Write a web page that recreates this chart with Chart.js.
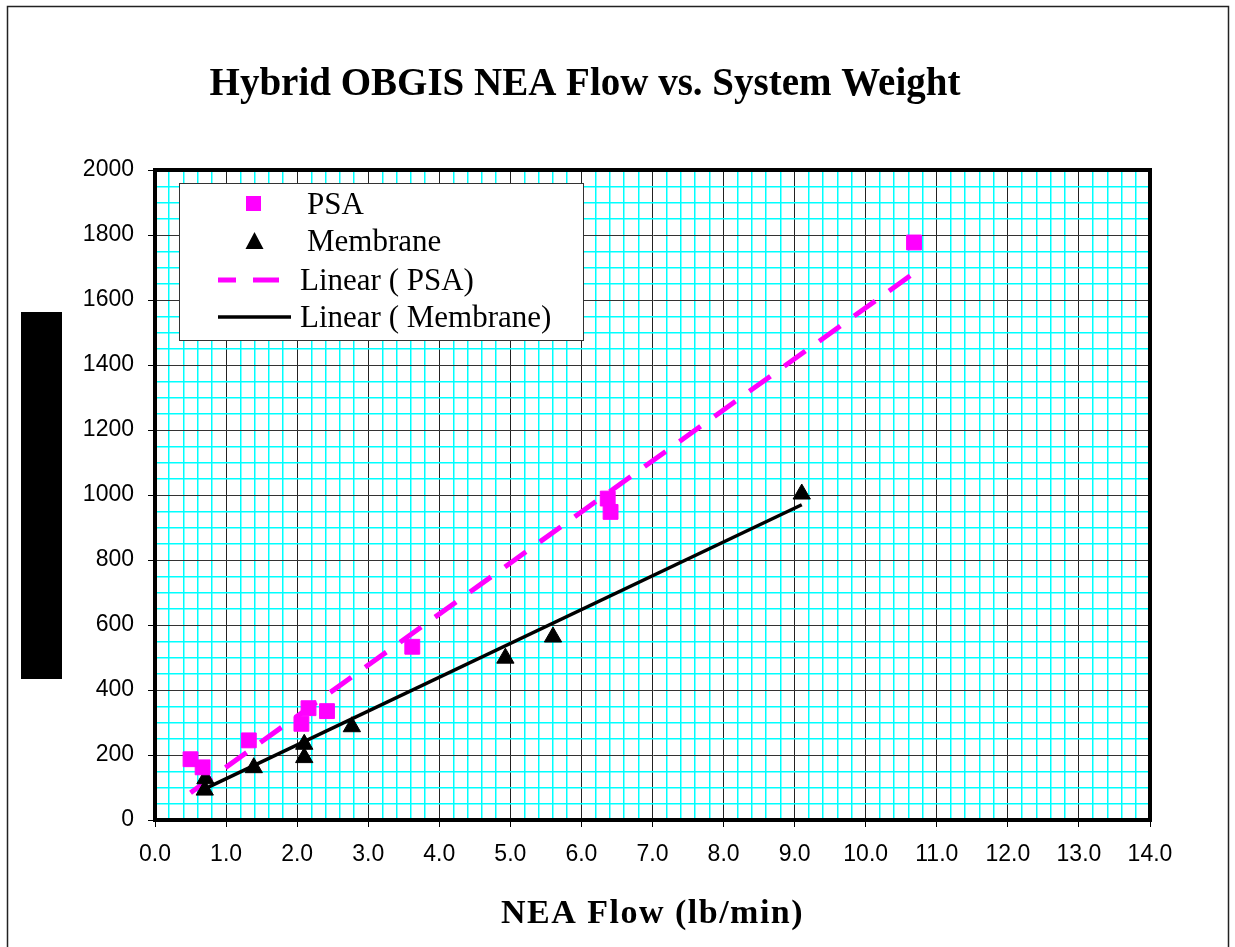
<!DOCTYPE html>
<html>
<head>
<meta charset="utf-8">
<title>Hybrid OBGIS NEA Flow vs. System Weight</title>
<script src="https://cdn.jsdelivr.net/npm/chart.js@4.4.1/dist/chart.umd.min.js"></script>
<style>
  body { margin: 0; background: #fff; }
  #wrap { width: 1235px; height: 947px; }
</style>
</head>
<body>
<div id="wrap"><canvas id="chart" width="1235" height="947"></canvas></div>
<script>
// --- data ---
const psaFlow   = [0.50, 0.67, 1.32, 2.06, 2.16, 2.42, 3.62, 6.37, 6.41, 10.68];
const psaWeight = [187, 162, 245, 296, 344, 335, 533, 989, 948, 1777];
const memFlow   = [0.70, 0.71, 1.39, 2.10, 2.10, 2.77, 4.93, 5.60, 9.10];
const memWeight = [92, 127, 161, 192, 233, 287, 498, 563, 1003];

// trendline end points as drawn
const psaTrendFlow   = [0.50, 10.68];
const psaTrendWeight = [84, 1683];
const memTrendFlow   = [0.70, 9.10];
const memTrendWeight = [96, 970];

// axis ranges / steps
const xRange = [0, 14];
const xSteps = [1, 0.2];     // major, minor
const yRange = [0, 2000];
const ySteps = [200, 50];

const seriesLabels = ["PSA", "Membrane", "Linear ( PSA)", "Linear ( Membrane)"];
const titleText = "Hybrid OBGIS NEA Flow vs. System Weight";
const xTitleText = "NEA Flow (lb/min)";

function toPoints(xs, ys) { return xs.map((x, i) => ({ x: x, y: ys[i] })); }
function isMajor(v, step) { return Math.abs(v / step - Math.round(v / step)) < 1e-6; }

const MAGENTA = "#ff00ff";
const CYAN = "#00ffff";

// frame, redacted block, titles, plot border, legend
const decor = {
  id: "decor",
  beforeDraw(chart) {
    const ctx = chart.ctx;
    ctx.save();
    ctx.fillStyle = "#fff";
    ctx.fillRect(0, 0, chart.width, chart.height);
    ctx.strokeStyle = "#222";
    ctx.lineWidth = 1.5;
    ctx.strokeRect(7.5, 6.5, 1221, 1000);
    ctx.fillStyle = "#000";
    ctx.fillRect(21, 312, 41, 367);
    ctx.font = 'bold 39px "Liberation Serif"';
    ctx.textAlign = "center";
    ctx.textBaseline = "alphabetic";
    ctx.fillText(titleText, 585, 95);

    const a = chart.chartArea;
    ctx.font = 'bold 34px "Liberation Serif"';
    if ("letterSpacing" in ctx) ctx.letterSpacing = "1.5px";
    ctx.fillText(xTitleText, (a.left + a.right) / 2, 923);
    ctx.restore();
  },
  afterDraw(chart) {
    const ctx = chart.ctx;
    const a = chart.chartArea;
    ctx.save();
    ctx.strokeStyle = "#000";
    ctx.lineWidth = 4;
    ctx.strokeRect(a.left, a.top, a.right - a.left, a.bottom - a.top);

    // legend box
    ctx.fillStyle = "#fff";
    ctx.fillRect(179, 183, 404, 157);
    ctx.strokeStyle = "#333";
    ctx.lineWidth = 1;
    ctx.strokeRect(179.5, 183.5, 404, 157);

    const ds = chart.data.datasets;
    const base = [214, 251, 290, 327];
    ctx.font = '31px "Liberation Serif"';
    ctx.textAlign = "left";
    ctx.textBaseline = "alphabetic";
    ds.forEach((d, i) => {
      const yb = base[i];
      const ym = yb - 10;
      if (d.showLine) {
        ctx.strokeStyle = d.borderColor;
        ctx.lineWidth = d.borderWidth;
        ctx.setLineDash(d.borderDash || []);
        ctx.lineDashOffset = d.borderDash ? 8 : 0;
        ctx.beginPath();
        ctx.moveTo(218, ym);
        ctx.lineTo(291, ym);
        ctx.stroke();
        ctx.setLineDash([]);
        ctx.fillStyle = "#000";
        ctx.fillText(d.label, 300, yb);
      } else {
        ctx.fillStyle = d.backgroundColor;
        if (d.pointStyle === "rect") {
          ctx.fillRect(246, ym - 8, 15, 15);
        } else {
          ctx.beginPath();
          ctx.moveTo(254.5, ym - 9);
          ctx.lineTo(263.5, ym + 8);
          ctx.lineTo(245.5, ym + 8);
          ctx.closePath();
          ctx.fill();
        }
        ctx.fillStyle = "#000";
        ctx.fillText(d.label, 307, yb);
      }
    });
    ctx.restore();
  }
};

new Chart(document.getElementById("chart"), {
  type: "scatter",
  data: {
    datasets: [
      {
        label: seriesLabels[0],
        data: toPoints(psaFlow, psaWeight),
        pointStyle: "rect",
        pointRadius: 10.5,
        borderWidth: 1,
        backgroundColor: MAGENTA,
        borderColor: MAGENTA,
        order: 0
      },
      {
        label: seriesLabels[1],
        data: toPoints(memFlow, memWeight),
        pointStyle: "triangle",
        pointRadius: 10,
        borderWidth: 1,
        backgroundColor: "#000",
        borderColor: "#000",
        order: 0
      },
      {
        label: seriesLabels[2],
        data: toPoints(psaTrendFlow, psaTrendWeight),
        showLine: true,
        pointRadius: 0,
        borderColor: MAGENTA,
        borderWidth: 5,
        borderDash: [26, 17],
        borderCapStyle: "butt",
        order: 1
      },
      {
        label: seriesLabels[3],
        data: toPoints(memTrendFlow, memTrendWeight),
        showLine: true,
        pointRadius: 0,
        borderColor: "#000",
        borderWidth: 3.5,
        order: 1
      }
    ]
  },
  options: {
    responsive: false,
    animation: false,
    events: [],
    layout: { padding: { top: 170, right: 85, left: 0, bottom: 0 } },
    plugins: {
      legend: { display: false },
      tooltip: { enabled: false },
      title: { display: false }
    },
    scales: {
      x: {
        type: "linear",
        min: xRange[0],
        max: xRange[1],
        afterFit(scale) { scale.height = 127; },
        border: { display: true, width: 4, color: "#000" },
        grid: {
          color: c => isMajor(c.tick.value, xSteps[0]) ? "#222" : CYAN,
          lineWidth: c => isMajor(c.tick.value, xSteps[0]) ? 1 : 1.5,
          tickColor: c => isMajor(c.tick.value, xSteps[0]) ? "#000" : "rgba(0,0,0,0)",
          tickWidth: 1,
          tickLength: 7
        },
        ticks: {
          stepSize: xSteps[1],
          autoSkip: false,
          maxRotation: 0,
          minRotation: 0,
          padding: 14,
          color: "#000",
          font: { family: "Liberation Sans", size: 23 },
          callback: v => isMajor(v, xSteps[0]) ? v.toFixed(1) : ""
        }
      },
      y: {
        type: "linear",
        min: yRange[0],
        max: yRange[1],
        afterFit(scale) { scale.width = 155; },
        border: { display: true, width: 4, color: "#000" },
        grid: {
          color: c => isMajor(c.tick.value, ySteps[0]) ? "#333" : CYAN,
          lineWidth: c => isMajor(c.tick.value, ySteps[0]) ? 1 : 1.5,
          tickColor: c => isMajor(c.tick.value, ySteps[0]) ? "#000" : "rgba(0,0,0,0)",
          tickWidth: 1,
          tickLength: 7
        },
        ticks: {
          stepSize: ySteps[1],
          autoSkip: false,
          padding: 14,
          color: "#000",
          font: { family: "Liberation Sans", size: 23 },
          callback: v => isMajor(v, ySteps[0]) ? String(v) : ""
        }
      }
    }
  },
  plugins: [decor]
});
</script>
</body>
</html>
